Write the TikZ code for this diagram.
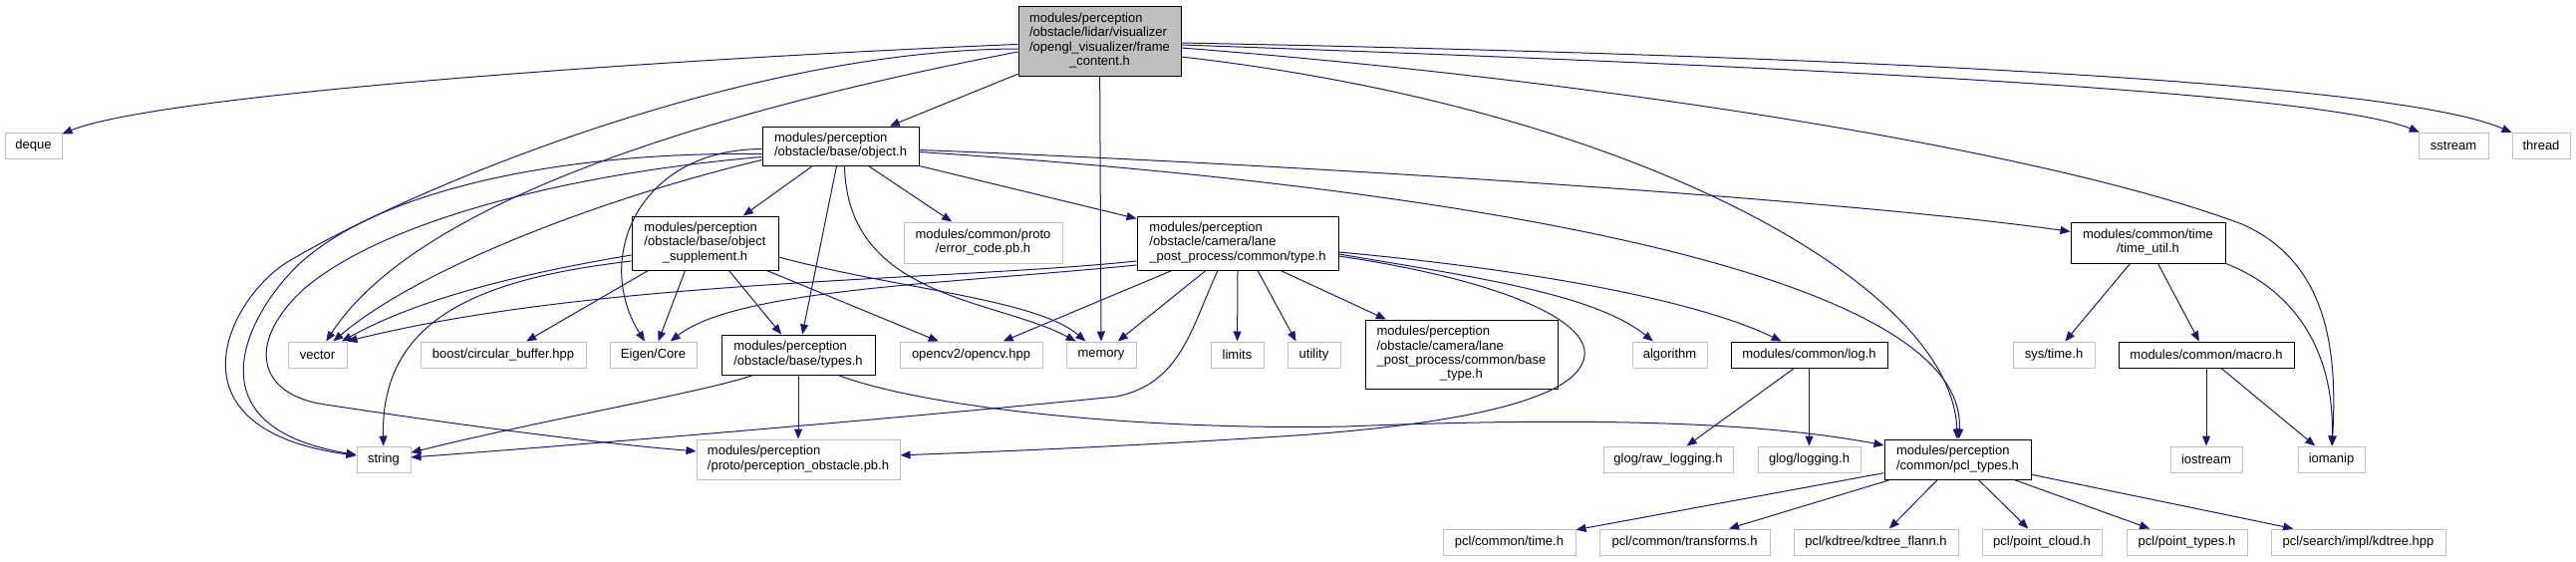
\documentclass[tikz,border=0pt]{standalone}
\usepackage{fontspec}
\setmainfont{Liberation Sans}
\usetikzlibrary{arrows.meta}
\definecolor{edgec}{HTML}{191970}
\definecolor{greyb}{HTML}{BFBFBF}
\newcommand{\ml}[1]{\begin{tabular}{@{}l@{}}#1\end{tabular}}
\newcommand{\lcx}[1]{\multicolumn{1}{@{}c@{}}{#1}}
\begin{document}
\begin{tikzpicture}[x=1pt,y=-1pt,
  box/.style={draw=black, line width=1pt, fill=white, inner sep=0pt, text=black,
              font=\fontsize{13}{14.3}\selectfont},
  gbox/.style={box, draw=greyb},
  dep/.style={draw=edgec, line width=1pt, -{Triangle[length=10pt,width=8pt]}}]
\useasboundingbox (0,0) rectangle (2585,563);

% ---- nodes ----
\node[box, fill=greyb, minimum width=163pt, minimum height=70pt] (main) at (1103.5,41)
  {\ml{modules/perception\\/obstacle/lidar/visualizer\\/opengl\_visualizer/frame\\\lcx{\_content.h}}};
\node[gbox, minimum width=57pt, minimum height=26pt] (deque) at (33.5,146) {deque};
\node[gbox, minimum width=70pt, minimum height=26pt] (sstream) at (2462,146) {sstream};
\node[gbox, minimum width=58pt, minimum height=26pt] (thread) at (2550,146) {thread};
\node[box, minimum width=157pt, minimum height=39pt] (obj) at (843.5,146.5)
  {\ml{modules/perception\\/obstacle/base/object.h}};
\node[box, minimum width=147pt, minimum height=54pt] (supp) at (707.5,244)
  {\ml{modules/perception\\/obstacle/base/object\\\lcx{\_supplement.h}}};
\node[gbox, minimum width=159pt, minimum height=41pt] (err) at (986.5,243.5)
  {\ml{modules/common/proto\\\lcx{/error\_code.pb.h}}};
\node[box, minimum width=202pt, minimum height=54pt] (lanetype) at (1242,244)
  {\ml{modules/perception\\/obstacle/camera/lane\\\_post\_process/common/type.h}};
\node[box, minimum width=155pt, minimum height=41pt] (timeutil) at (2155.5,243.5)
  {\ml{modules/common/time\\\lcx{/time\_util.h}}};
\node[gbox, minimum width=59pt, minimum height=26pt] (vector) at (318.5,356) {vector};
\node[gbox, minimum width=166pt, minimum height=26pt] (boost) at (505,356) {boost/circular\_buffer.hpp};
\node[gbox, minimum width=87pt, minimum height=26pt] (eigen) at (655.5,356) {Eigen/Core};
\node[box, minimum width=154pt, minimum height=40pt] (types) at (801,356)
  {\ml{modules/perception\\/obstacle/base/types.h}};
\node[gbox, minimum width=143pt, minimum height=26pt] (opencv) at (974.5,356) {opencv2/opencv.hpp};
\node[gbox, minimum width=70pt, minimum height=26pt] (memory) at (1105,356) {memory};
\node[gbox, minimum width=53pt, minimum height=26pt] (limits) at (1241.5,356) {limits};
\node[gbox, minimum width=53pt, minimum height=26pt] (utility) at (1318.5,356) {utility};
\node[box, minimum width=193pt, minimum height=69pt] (basetype) at (1466.5,355.5)
  {\ml{modules/perception\\/obstacle/camera/lane\\\_post\_process/common/base\\\lcx{\_type.h}}};
\node[gbox, minimum width=75pt, minimum height=26pt] (algorithm) at (1675.5,356) {algorithm};
\node[box, minimum width=157pt, minimum height=26pt] (log) at (1815.5,356) {modules/common/log.h};
\node[gbox, minimum width=82pt, minimum height=26pt] (systime) at (2061,356) {sys/time.h};
\node[box, minimum width=176pt, minimum height=26pt] (macro) at (2214,356) {modules/common/macro.h};
\node[gbox, minimum width=54pt, minimum height=26pt] (string) at (385,461) {string};
\node[gbox, minimum width=204pt, minimum height=40pt] (percobs) at (801,461)
  {\ml{modules/perception\\/proto/perception\_obstacle.pb.h}};
\node[gbox, minimum width=130pt, minimum height=26pt] (rawlog) at (1674,461) {glog/raw\_logging.h};
\node[gbox, minimum width=103pt, minimum height=26pt] (glog) at (1815.5,461) {glog/logging.h};
\node[box, minimum width=147pt, minimum height=40pt] (pcltypes) at (1964.5,461)
  {\ml{modules/perception\\/common/pcl\_types.h}};
\node[gbox, minimum width=72pt, minimum height=26pt] (iostream) at (2214,461) {iostream};
\node[gbox, minimum width=67pt, minimum height=26pt] (iomanip) at (2339.5,461) {iomanip};
\node[gbox, minimum width=133pt, minimum height=26pt] (pcltime) at (1514.5,544) {pcl/common/time.h};
\node[gbox, minimum width=171pt, minimum height=26pt] (pcltrans) at (1690.5,544) {pcl/common/transforms.h};
\node[gbox, minimum width=165pt, minimum height=26pt] (kdflann) at (1882.5,544) {pcl/kdtree/kdtree\_flann.h};
\node[gbox, minimum width=120pt, minimum height=26pt] (pointcloud) at (2049,544) {pcl/point\_cloud.h};
\node[gbox, minimum width=121pt, minimum height=26pt] (pointtypes) at (2194.5,544) {pcl/point\_types.h};
\node[gbox, minimum width=175pt, minimum height=26pt] (kdtree) at (2366.5,544) {pcl/search/impl/kdtree.hpp};

% ---- frame_content.h ----
\draw[dep] (main) .. controls (650,60) and (160,95) .. (deque);
\draw[dep] ([yshift=-8pt]main.west) .. controls (750,50) and (420,185) .. (290,262)
           .. controls (231,297) and (160,430) .. (string);
\draw[dep] ([yshift=-11pt]main.west) .. controls (720,110) and (420,200) .. (vector);
\draw[dep] (main) -- (obj);
\draw[dep] (main) -- (memory);
\draw[dep] ([yshift=-2pt]main.east) .. controls (1800,55) and (2400,80) .. (thread);
\draw[dep] ([yshift=-4pt]main.east) .. controls (1750,65) and (2320,90) .. (sstream);
\draw[dep] ([yshift=-7pt]main.east) .. controls (1600,80) and (2050,150) .. (2250,225)
           .. controls (2340,265) and (2345,360) .. (iomanip);
\draw[dep] ([yshift=-16pt]main.east) .. controls (1650,110) and (1960,290) .. (pcltypes);

% ---- object.h ----
\draw[dep] ([xshift=-28pt]obj.south) -- (supp);
\draw[dep] ([xshift=-4pt]obj.south) -- (types);
\draw[dep] ([xshift=28pt]obj.south) -- (err);
\draw[dep] (obj.south east) -- (lanetype);
\draw[dep] ([xshift=4pt]obj.south) .. controls (850,300) and (1000,300) .. (memory);
\draw[dep] ([yshift=-3pt]obj.west) .. controls (640,150) and (595,260) .. (eigen);
\draw[dep] ([yshift=-8pt]obj.west) .. controls (580,152) and (400,185) .. (312,255)
           .. controls (265,290) and (170,425) .. (string);
\draw[dep] ([yshift=-11pt]obj.west) .. controls (560,175) and (380,225) .. (305,290)
           .. controls (250,340) and (255,392) .. (320,405)
           .. controls (450,425) and (600,445) .. (percobs);
\draw[dep] ([yshift=-14pt]obj.west) .. controls (600,200) and (420,270) .. (vector);
\draw[dep] ([yshift=-4pt]obj.east) .. controls (1300,165) and (1850,200) .. (timeutil);
\draw[dep] ([yshift=-6pt]obj.east) .. controls (1500,190) and (1975,280) .. (pcltypes);

% ---- object_supplement.h ----
\draw[dep] ([yshift=-12pt]supp.west) .. controls (520,275) and (420,300) .. (vector);
\draw[dep] ([yshift=-18pt]supp.west) .. controls (480,280) and (382,320) .. (string);
\draw[dep] ([xshift=-57pt]supp.south) -- (boost);
\draw[dep] ([xshift=-20pt]supp.south) -- (eigen);
\draw[dep] ([xshift=24pt]supp.south) -- (types);
\draw[dep] ([xshift=62pt]supp.south) -- (opencv);
\draw[dep] ([yshift=-14pt]supp.east) .. controls (900,290) and (1040,300) .. (memory);

% ---- lane type.h ----
\draw[dep] ([yshift=-18pt]lanetype.west) .. controls (950,282) and (600,280) .. (vector.north east);
\draw[dep] ([yshift=-22pt]lanetype.west) .. controls (950,285) and (740,290) .. (eigen);
\draw[dep] ([xshift=-66pt]lanetype.south) -- (opencv);
\draw[dep] ([xshift=-32pt]lanetype.south) -- (memory);
\draw[dep] (lanetype.south) -- (limits);
\draw[dep] ([xshift=20pt]lanetype.south) -- ([xshift=-18pt]utility.north);
\draw[dep] ([xshift=43pt]lanetype.south) -- (basetype);
\draw[dep] ([yshift=-11pt]lanetype.east) .. controls (1480,278) and (1600,295) .. (algorithm);
\draw[dep] ([yshift=-9pt]lanetype.east) .. controls (1530,270) and (1700,300) .. (log);
\draw[dep] ([yshift=-13pt]lanetype.east) .. controls (1500,280) and (1595,320) .. (1590,357)
           .. controls (1585,400) and (1470,425) .. (1300,437)
           .. controls (1100,450) and (950,455) .. (percobs);
\draw[dep] ([xshift=-20pt]lanetype.south) .. controls (1195,330) and (1185,385) .. (1120,398)
           .. controls (900,420) and (600,445) .. (string);

% ---- types.h ----
\draw[dep] ([xshift=-45pt]types.south) .. controls (700,395) and (550,420) .. (string);
\draw[dep] (types) -- (percobs);
\draw[dep] ([xshift=40pt]types.south) .. controls (930,410) and (1150,432) .. (1350,428)
           .. controls (1550,420) and (1750,420) .. (pcltypes);

% ---- log.h ----
\draw[dep] ([xshift=-15pt]log.south) -- (rawlog);
\draw[dep] (log) -- (glog);

% ---- time_util.h / macro.h ----
\draw[dep] ([xshift=-18pt]timeutil.south) -- (systime);
\draw[dep] ([xshift=10pt]timeutil.south) -- (macro);
\draw[dep] (timeutil.south east) .. controls (2300,290) and (2343,350) .. (iomanip);
\draw[dep] (macro) -- (iostream);
\draw[dep] ([xshift=15pt]macro.south) -- (iomanip);

% ---- pcl_types.h ----
\draw[dep] (pcltypes) -- (pcltime);
\draw[dep] (pcltypes) -- (pcltrans);
\draw[dep] (pcltypes) -- (kdflann);
\draw[dep] (pcltypes) -- (pointcloud);
\draw[dep] (pcltypes) -- (pointtypes);
\draw[dep] (pcltypes) -- (kdtree);
\end{tikzpicture}
\end{document}
